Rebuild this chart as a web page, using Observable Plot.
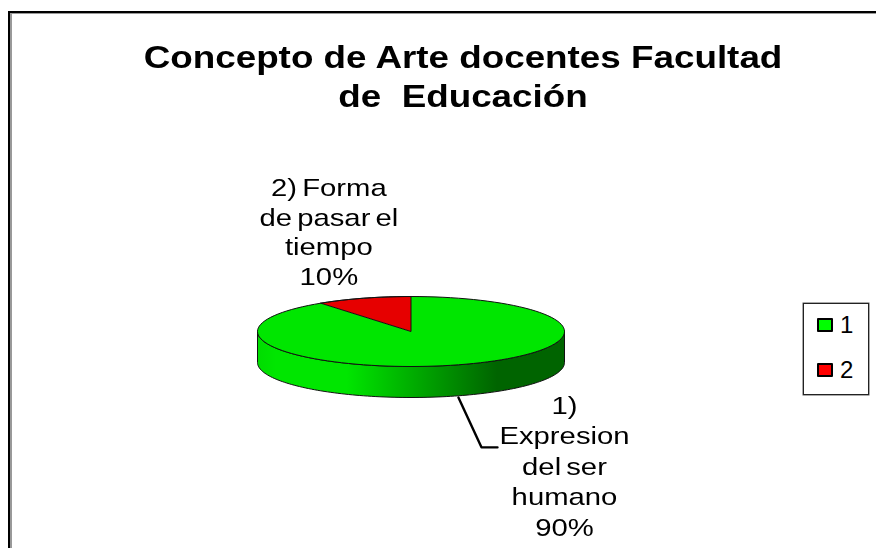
<!DOCTYPE html>
<html lang="es">
<head>
<meta charset="utf-8">
<script src="https://cdn.jsdelivr.net/npm/d3@7"></script>
<script src="https://cdn.jsdelivr.net/npm/@observablehq/plot@0.6"></script>
<style>
  html, body { margin: 0; background: #fff; overflow: hidden; }
  #chart { position: relative; width: 876px; height: 548px; overflow: hidden; font-family: "Liberation Sans", Arial, sans-serif; color: #000; }
  #chart svg { position: absolute; left: 0; top: 0; background: transparent; }
  #chart svg text { word-spacing: -2.5px; filter: blur(.4px); }
  .frame { position: absolute; left: 8px; top: 11px; right: 0; bottom: 0; border-left: 2px solid #000; border-top: 2px solid #000; }
  .frame::before { content: ""; position: absolute; left: 0; top: 0; right: 0; bottom: 0; border-left: 2px solid #999; border-top: 1px solid #999; }
  h1 { position: absolute; left: 44px; width: 838px; top: 38px; margin: 0; text-align: center; font-size: 32px; line-height: 39px; font-weight: 700; transform: scaleX(1.15); filter: blur(.5px); }
  .legend { position: absolute; left: 803px; top: 303px; width: 64px; height: 90px; border: 1px solid #222; box-shadow: 0 0 0 .5px #555; }
  .legend div { position: absolute; left: 13px; display: flex; align-items: center; font-size: 24px; line-height: 26px; }
  .legend i { display: inline-block; width: 12px; height: 10px; border: 2px solid #000; border-radius: 1px; margin-right: 7px; }
</style>
</head>
<body>
<div id="chart">
  <div class="frame"></div>
  <h1>Concepto de Arte docentes Facultad<br>de&nbsp; Educación</h1>
  <div class="legend" id="legend"></div>
</div>
<script>
const categories = ["1", "2"];
const labels = ["1)\nExpresion\ndel ser\nhumano\n90%", "2) Forma\nde pasar el\ntiempo\n10%"];
const values = [90, 10];
const colors = ["#00e600", "#e60000"];
const legendColors = ["#00ff00", "#ff0000"];

const depth = 31 / 35;
const arcs = d3.pie().sort(null)(values);
const pt = (a, dy = 0) => ({x: Math.sin(a), y: -Math.cos(a) + dy});
const sweep = (a0, a1, dy = 0) => d3.range(0, 121).map(i => pt(a0 + (a1 - a0) * i / 120, dy));

const slices = arcs.map((s, i) => sweep(s.startAngle, s.endAngle)
  .concat([{x: 0, y: 0}])
  .map(p => ({...p, key: categories[i]})));
const wall = sweep(Math.PI / 2, 3 * Math.PI / 2)
  .concat(sweep(3 * Math.PI / 2, Math.PI / 2, depth));
wall.push(wall[0]);

const defs = () => {
  const d = d3.create("svg:defs");
  const g = d.append("linearGradient").attr("id", "wallShade");
  [[0, "#00dc00"], [0.06, "#00e600"], [0.29, "#00e600"], [0.78, "#006400"], [1, "#006400"]]
    .forEach(([o, c]) => g.append("stop").attr("offset", o).attr("stop-color", c));
  return d.node();
};

const plot = Plot.plot({
  width: 876,
  height: 548,
  margin: 0,
  x: {domain: [-1, 1], range: [257, 564], axis: null},
  y: {domain: [-1, 1], range: [296, 366], axis: null},
  marks: [
    defs,
    Plot.line(wall, {x: "x", y: "y", fill: "url(#wallShade)", stroke: "#111", strokeWidth: 1}),
    ...slices.map((s, i) => Plot.line(s, {x: "x", y: "y", fill: colors[i], stroke: "none"})),
    ...slices.map((s, i) => Plot.line(s.concat(s[0]), {x: "x", y: "y", stroke: i === 1 ? "#111" : "none", strokeWidth: 1})),
    Plot.line(sweep(0, 2 * Math.PI), {x: "x", y: "y", stroke: "#111", strokeWidth: 1}),
    Plot.line([{x: 0.309, y: 1.886}, {x: 0.459, y: 3.31}, {x: 0.5635, y: 3.31}], {x: "x", y: "y", stroke: "#000", strokeWidth: 2.4}),
    Plot.text([labels[0]], {text: d => d, x: 1.0, y: 3.82, fontSize: 24, lineHeight: 1.27, fill: "#000", fontFamily: "Liberation Sans", textAnchor: "middle", lineAnchor: "middle"}),
    Plot.text([labels[1]], {text: d => d, x: -0.535, y: -2.87, fontSize: 24, lineHeight: 1.24, fill: "#000", fontFamily: "Liberation Sans", textAnchor: "middle", lineAnchor: "middle"})
  ]
});
document.getElementById("chart").appendChild(plot);

// The reference's label glyphs are horizontally stretched; widen each label about its own centre.
plot.querySelectorAll("text").forEach(t => {
  const b = t.getBBox();
  const cx = b.x + b.width / 2;
  const prior = t.getAttribute("transform") || "";
  t.setAttribute("transform", `${prior} translate(${cx},0) scale(1.22,1) translate(${-cx},0)`);
});

const legend = document.getElementById("legend");
categories.forEach((c, i) => {
  const row = document.createElement("div");
  row.style.top = (i === 0 ? 8 : 53) + "px";
  const sw = document.createElement("i");
  sw.style.background = legendColors[i];
  row.appendChild(sw);
  row.appendChild(document.createTextNode(c));
  legend.appendChild(row);
});
</script>
</body>
</html>
